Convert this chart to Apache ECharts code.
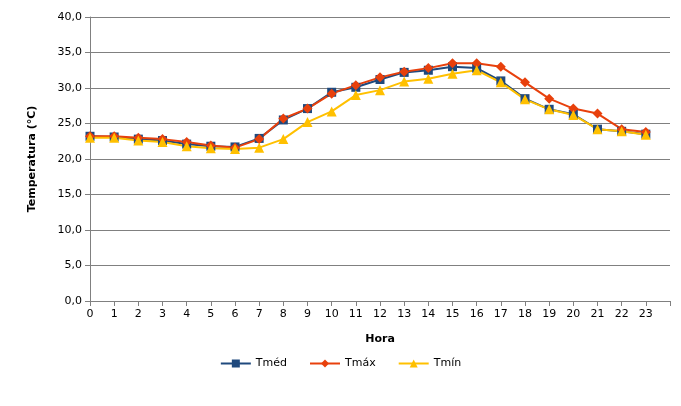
<!DOCTYPE html>
<html><head><meta charset="utf-8">
<script src="https://cdn.jsdelivr.net/npm/echarts@6/dist/echarts.min.js"></script>
<style>html,body{margin:0;padding:0;background:#fff}#c{width:681px;height:406px}</style>
</head><body><div id="c"></div>
<script>
var horas = ['0','1','2','3','4','5','6','7','8','9','10','11','12','13','14','15','16','17','18','19','20','21','22','23',''];
var tmed = [23.2,23.1,22.8,22.6,22.1,21.8,21.7,22.9,25.5,27.1,29.4,30.1,31.2,32.2,32.5,33.0,32.8,31.0,28.5,27.0,26.3,24.2,23.9,23.5];
var tmax = [23.2,23.2,23.0,22.8,22.4,21.9,21.6,22.8,25.7,27.1,29.2,30.4,31.5,32.3,32.8,33.5,33.5,33.0,30.8,28.5,27.1,26.4,24.2,23.8];
var tmin = [23.0,23.0,22.6,22.4,21.8,21.5,21.4,21.6,22.8,25.2,26.7,29.0,29.7,30.9,31.3,32.0,32.5,30.8,28.4,27.0,26.2,24.2,23.9,23.4];

var chart = echarts.init(document.getElementById('c'), null, {renderer: 'canvas'});
var font = 'Verdana, "DejaVu Sans", sans-serif';
function serie(name, data, color, symbol, size) {
  return {name: name, type: 'line', data: data, symbol: symbol, symbolSize: size,
    lineStyle: {color: color, width: 2}, itemStyle: {color: color}, animation: false};
}
chart.setOption({
  textStyle: {fontFamily: font},
  grid: {left: 90, right: 11, top: 17, bottom: 105},
  legend: {bottom: 32, left: 'center', itemWidth: 30, itemHeight: 10, itemGap: 22,
    textStyle: {fontSize: 11, color: '#000'},
    data: ['Tméd', 'Tmáx', 'Tmín']},
  xAxis: {type: 'category', data: horas, boundaryGap: false, name: 'Hora', nameLocation: 'middle', nameGap: 33,
    nameTextStyle: {fontWeight: 'bold', fontSize: 11, color: '#000'},
    axisLine: {lineStyle: {color: '#808080'}}, axisTick: {show: true, lineStyle: {color: '#808080'}},
    axisLabel: {color: '#000', fontSize: 11, interval: 0}},
  yAxis: {type: 'value', min: 0, max: 40, interval: 5, name: 'Temperatura (°C)', nameLocation: 'middle', nameGap: 52,
    nameTextStyle: {fontWeight: 'bold', fontSize: 11, color: '#000'},
    axisLine: {show: true, lineStyle: {color: '#808080'}}, axisTick: {show: true, lineStyle: {color: '#808080'}},
    splitLine: {lineStyle: {color: '#808080'}},
    axisLabel: {color: '#000', fontSize: 11, formatter: function (v) { return v.toFixed(1).replace('.', ','); }}},
  series: [
    serie('Tméd', tmed, '#1F497D', 'rect', 9),
    serie('Tmáx', tmax, '#E8400C', 'diamond', 10),
    serie('Tmín', tmin, '#FFC000', 'triangle', 10)
  ]
});
window.addEventListener('resize', chart.resize);
</script></body></html>
